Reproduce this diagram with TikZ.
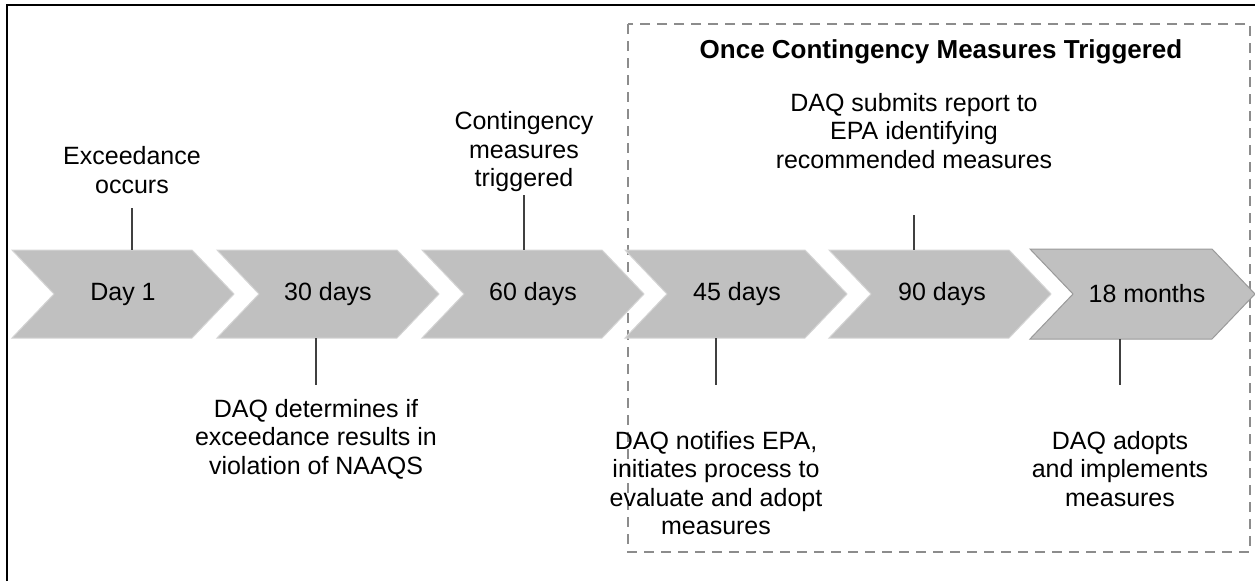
\documentclass[tikz,border=0pt]{standalone}
\usepackage{fontspec}
\setmainfont{Liberation Sans}
\definecolor{chevgray}{HTML}{C0C0C0}
\definecolor{chevedge}{HTML}{D4D4D4}
\definecolor{chevdark}{HTML}{9A9A9A}
\definecolor{connc}{HTML}{404040}
\definecolor{dashc}{HTML}{8C8C8C}
\newcommand{\mychev}[6]{%
  \draw[#1] (#2,#3) -- ({#2+#5},#3) -- ({#2+#5+#6},{(#3+#4)/2}) -- ({#2+#5},#4) -- (#2,#4) -- ({#2+#6},{(#3+#4)/2}) -- cycle;}
\begin{document}
\begin{tikzpicture}[x=1pt,y=-1pt,
  chev/.style={fill=chevgray, draw=chevedge, line width=1pt},
  chevlast/.style={fill=chevgray, draw=chevdark, line width=1pt},
  lab/.style={align=center, font=\fontsize{25}{28.5}\selectfont, inner sep=0pt, text=black},
  conn/.style={draw=connc, line width=1.5pt},
  frame/.style={line width=2.5pt, draw=black},
  grp/.style={draw=dashc, line width=2pt, dash pattern=on 10pt off 7pt},
  ttl/.style={font=\bfseries\fontsize{26}{30}\selectfont, inner sep=0pt}]
\useasboundingbox (0,0) rectangle (1255,581);
\draw[frame] (7,581) -- (7,5) -- (1255,5);
% group box
\draw[grp] (628,24) rectangle (1250,552);
\node[ttl] (title) at (941,52) {Once Contingency Measures Triggered};
% chevrons
\mychev{chev}{12}{250}{338}{180}{42}
\mychev{chev}{217}{250}{338}{180}{42}
\mychev{chev}{422}{250}{338}{180}{42}
\mychev{chev}{625}{250}{338}{180}{42}
\mychev{chev}{829}{250}{338}{180}{42}
\mychev{chevlast}{1030}{249}{339}{182}{43}
\node[lab] (d1) at (123,294) {Day 1};
\node[lab] (d2) at (328,294) {30 days};
\node[lab] (d3) at (533,294) {60 days};
\node[lab] (d4) at (737,294) {45 days};
\node[lab] (d5) at (942,294) {90 days};
\node[lab] (d6) at (1147,294) {18 months};
% labels
\node[lab] (l1) at (132,170) {Exceedance\\occurs};
\node[lab] (l2) at (524,152) {Contingency\\measures\\triggered};
\node[lab] (l3) at (914,131) {DAQ submits report to\\EPA identifying\\recommended measures};
\node[lab] (l4) at (316,439) {DAQ determines if\\exceedance results in\\violation of NAAQS};
\node[lab] (l5) at (716,483) {DAQ notifies EPA,\\initiates process to\\evaluate and adopt\\measures};
\node[lab] (l6) at (1120,469) {DAQ adopts\\and implements\\measures};
% connectors
\coordinate (a1) at (132,208); \coordinate (b1) at (132,250);
\coordinate (a2) at (524,195); \coordinate (b2) at (524,250);
\coordinate (a3) at (914,215); \coordinate (b3) at (914,250);
\coordinate (a4) at (316,385); \coordinate (b4) at (316,338);
\coordinate (a5) at (716,385); \coordinate (b5) at (716,338);
\coordinate (a6) at (1120,385); \coordinate (b6) at (1120,339);
\draw[conn] (a1) -- (b1);
\draw[conn] (a2) -- (b2);
\draw[conn] (a3) -- (b3);
\draw[conn] (b4) -- (a4);
\draw[conn] (b5) -- (a5);
\draw[conn] (b6) -- (a6);
\end{tikzpicture}
\end{document}
